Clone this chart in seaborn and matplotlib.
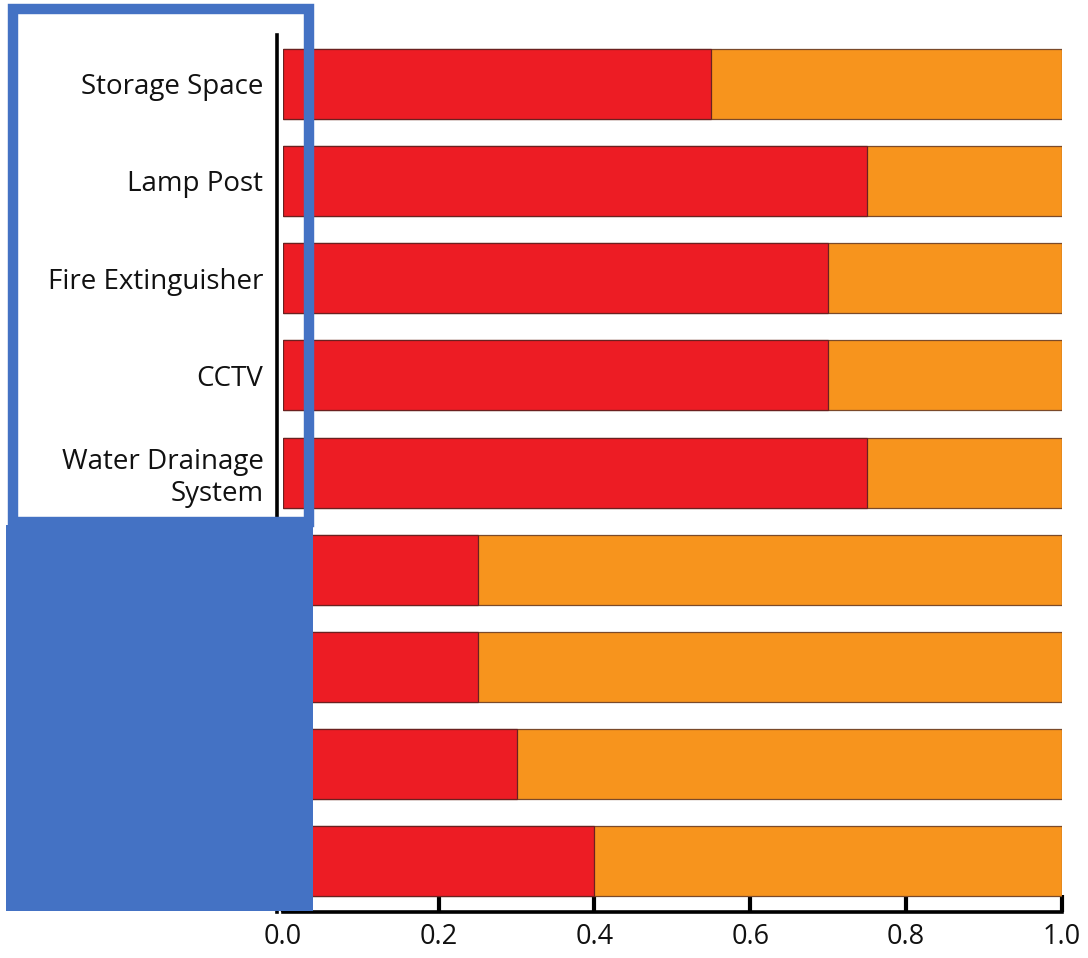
import seaborn as sns
import matplotlib.pyplot as plt
import matplotlib.patches as mpatches
import pandas as pd

categories = ['Storage Space', 'Lamp Post', 'Fire Extinguisher', 'CCTV',
              'Water Drainage\nSystem', 'Item 6', 'Item 7', 'Item 8', 'Item 9']
red_share = [0.55, 0.75, 0.70, 0.70, 0.75, 0.25, 0.25, 0.30, 0.40]
total = [1.0] * 9
xticks = [0.0, 0.2, 0.4, 0.6, 0.8, 1.0]

df = pd.DataFrame({'cat': categories, 'red': red_share, 'total': total})

sns.set_style('white')
plt.rcParams['font.family'] = ['Open Sans', 'DejaVu Sans']

fig = plt.figure(figsize=(10.88, 9.58), dpi=100)
ax = fig.add_axes([0.260, 0.048, 0.716, 0.9155])

sns.barplot(data=df, x='total', y='cat', orient='h', color='#F7941D',
            width=0.72, edgecolor='#7a4a2a', linewidth=0.9, saturation=1, ax=ax)
sns.barplot(data=df, x='red', y='cat', orient='h', color='#ED1C24',
            width=0.72, edgecolor='#6b2020', linewidth=0.9, saturation=1, ax=ax)

ax.set_xlim(0, 1.0)
ax.set_ylim(8.52, -0.5)
ax.set_xlabel('')
ax.set_ylabel('')
ax.set_xticks(xticks)
ax.set_xticklabels([f'{t:.1f}' for t in xticks])
ax.tick_params(axis='x', bottom=True, direction='in', length=12, width=3,
               pad=8, color='black', labelsize=19.5, labelcolor='#111111')
ax.tick_params(axis='y', left=False, length=0, labelsize=20, pad=10,
               labelcolor='#111111')
for lab in ax.get_yticklabels():
    lab.set_linespacing(1.0)
    lab.set_fontweight('medium')

for s in ['top', 'right']:
    ax.spines[s].set_visible(False)
ax.spines['left'].set_position(('outward', 4))
for s in ['left', 'bottom']:
    ax.spines[s].set_linewidth(2.6)
    ax.spines[s].set_color('black')

# blue overlay boxes
W, H = 1088, 958
fig.patches.append(mpatches.Rectangle((13 / W, 1 - 522 / H), 296 / W, 513 / H,
                                      transform=fig.transFigure, fill=False,
                                      edgecolor='#4472C4', linewidth=7.5, zorder=5))
fig.patches.append(mpatches.Rectangle((6 / W, 1 - 911 / H), 307 / W, 386 / H,
                                      transform=fig.transFigure, facecolor='#4472C4',
                                      edgecolor='none', zorder=6))

fig.savefig('out.png', dpi=100)
